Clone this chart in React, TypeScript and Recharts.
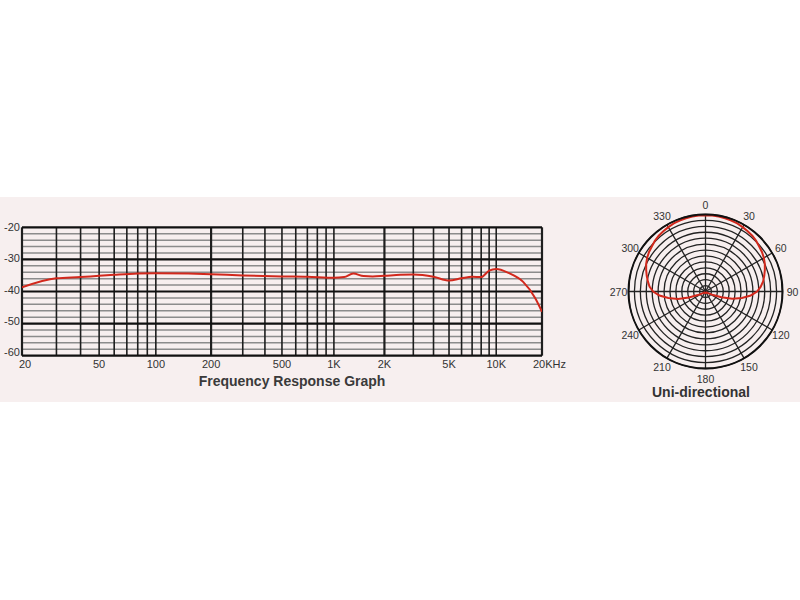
import React from 'react';
import {
  LineChart,
  Line,
  XAxis,
  YAxis,
  ReferenceLine,
  RadarChart,
  Radar,
  PolarGrid,
  PolarAngleAxis,
  PolarRadiusAxis,
} from 'recharts';

// frequency response (Hz -> dB)
const freqs = [20, 30, 40, 50, 60, 80, 100, 150, 200, 300, 500, 700, 1000, 1150, 1300, 1500, 1700, 2000, 2500, 3000, 4000, 5000, 6000, 7000, 8000, 9000, 10000, 12000, 15000, 18000, 20000];
const levels = [-38.7, -35.9, -35.5, -35.1, -34.8, -34.4, -34.3, -34.4, -34.6, -35.0, -35.3, -35.4, -35.7, -35.5, -34.4, -35.2, -35.3, -35.1, -34.8, -34.7, -35.4, -36.6, -35.9, -35.4, -35.5, -33.5, -33.0, -34.2, -37.0, -42.0, -46.3];

const gridFreqs = [20, 30, 40, 50, 60, 70, 80, 90, 100, 200, 300, 400, 500, 600, 700, 800, 900, 1000, 2000, 3000, 4000, 5000, 6000, 7000, 8000, 9000, 10000, 20000];
const decadeFreqs = [20, 200, 2000, 20000];
const freqLabels: Record<number, string> = { 20: '20', 50: '50', 100: '100', 200: '200', 500: '500', 1000: '1K', 2000: '2K', 5000: '5K', 10000: '10K', 20000: '20KHz' };
const dbMinor = [-22, -24, -26, -28, -32, -34, -36, -38, -42, -44, -46, -48, -52, -54, -56, -58];
const dbMajor = [-20, -30, -40, -50, -60];

// polar pattern, every 5 degrees clockwise from 0
const polarAngles = [0, 5, 10, 15, 20, 25, 30, 35, 40, 45, 50, 55, 60, 65, 70, 75, 80, 85, 90, 95, 100, 105, 110, 115, 120, 125, 130, 135, 140, 145, 150, 155, 160, 165, 170, 175, 180, 185, 190, 195, 200, 205, 210, 215, 220, 225, 230, 235, 240, 245, 250, 255, 260, 265, 270, 275, 280, 285, 290, 295, 300, 305, 310, 315, 320, 325, 330, 335, 340, 345, 350, 355];
const polarLevels = [0.99, 0.99, 0.99, 0.985, 0.98, 0.975, 0.965, 0.955, 0.945, 0.93, 0.91, 0.895, 0.875, 0.85, 0.82, 0.79, 0.76, 0.72, 0.67, 0.59, 0.48, 0.36, 0.22, 0.11, 0.05, 0.03, 0.02, 0.02, 0.02, 0.02, 0.02, 0.02, 0.02, 0.02, 0.02, 0.02, 0.02, 0.02, 0.02, 0.02, 0.02, 0.02, 0.02, 0.02, 0.02, 0.02, 0.02, 0.03, 0.05, 0.11, 0.23, 0.37, 0.49, 0.6, 0.68, 0.73, 0.76, 0.79, 0.82, 0.85, 0.875, 0.895, 0.91, 0.93, 0.945, 0.955, 0.965, 0.975, 0.98, 0.985, 0.99, 0.99];
const polarLabels = [0, 30, 60, 90, 120, 150, 180, 210, 240, 270, 300, 330];

// the printed chart is not a true log scale, it gets tighter towards 20K
const warp = (f: number) => {
  const L = Math.log10(f / 20);
  return L - 0.04 * L * L;
};

const freqData = freqs.map((f, i) => ({ u: warp(f), db: levels[i] }));
const polarData = polarAngles.map((a, i) => ({ angle: a, r: polarLevels[i] }));

const FONT = '"Liberation Sans", Arial, sans-serif';
const RED = '#d2281c';
const INK = '#333333';
const OUTER = 77;
const CX = 105.5;
const CY = 101.5;

const FreqTick = (props: any) => {
  const { x, y, payload } = props;
  const f = gridFreqs.find((g) => Math.abs(warp(g) - payload.value) < 1e-9);
  const label = f !== undefined ? freqLabels[f] : undefined;
  if (!label) return <g />;
  const last = f === 20000;
  const first = f === 20;
  return (
    <text
      x={last ? x - 9 : first ? x + 3 : x}
      y={y + 12}
      textAnchor={last ? 'start' : 'middle'}
      fontSize={11}
      fontFamily={FONT}
      style={{ fill: INK }}
    >
      {label}
    </text>
  );
};

const DbTick = (props: any) => {
  const { x, y, payload } = props;
  if (payload.value % 10 !== 0) return <g />;
  return (
    <text x={x} y={y + 4 + (payload.value + 20) / 10} textAnchor="end" fontSize={11} fontFamily={FONT} style={{ fill: INK }}>
      {payload.value}
    </text>
  );
};

const AngleTick = (props: any) => {
  const { payload } = props;
  if (!polarLabels.includes(payload.value)) return <g />;
  const rad = (payload.coordinate * Math.PI) / 180;
  const tx = CX + 87 * Math.cos(rad);
  const ty = CY - 87 * Math.sin(rad);
  return (
    <text x={tx} y={ty + 4} textAnchor="middle" fontSize={10.5} fontFamily={FONT} style={{ fill: INK }}>
      {payload.value}
    </text>
  );
};

export default function App() {
  const ringRadii = Array.from({ length: 13 }, (_, k) => (OUTER * (k + 1)) / 13);
  return (
    <div style={{ position: 'absolute', left: 0, top: 0, width: 800, height: 600, background: '#fff', fontFamily: FONT }}>
      <div style={{ position: 'absolute', left: 0, top: 197, width: 800, height: 205, background: '#f7efef' }} />

      <div style={{ position: 'absolute', left: 0, top: 190 }}>
        <LineChart width={580} height={200} data={freqData} margin={{ top: 37.3, right: 38, bottom: 14.3, left: 0 }}>
          <XAxis
            type="number"
            dataKey="u"
            domain={[0, warp(20000)]}
            ticks={gridFreqs.map(warp)}
            interval={0}
            tick={<FreqTick />}
            tickLine={false}
            axisLine={false}
            tickSize={0}
            tickMargin={0}
            height={20}
            allowDataOverflow
          />
          <YAxis
            type="number"
            domain={[-60, -20]}
            ticks={dbMajor}
            interval={0}
            tick={<DbTick />}
            tickLine={false}
            axisLine={false}
            tickSize={0}
            tickMargin={2}
            width={22}
            allowDataOverflow
          />
          {dbMinor.map((d) => (
            <ReferenceLine key={'h' + d} y={d} stroke="#8c8c8c" strokeWidth={1.5} />
          ))}
          {gridFreqs.map((f) => (
            <ReferenceLine key={'v' + f} x={warp(f)} stroke="#1e1e1e" strokeWidth={decadeFreqs.includes(f) ? 2.2 : 1.6} />
          ))}
          {dbMajor.map((d) => (
            <ReferenceLine key={'m' + d} y={d} stroke="#111" strokeWidth={2.2} />
          ))}
          <Line type="monotone" dataKey="db" stroke={RED} strokeWidth={2} dot={false} isAnimationActive={false} />
        </LineChart>
      </div>

      <div style={{ position: 'absolute', left: 192, top: 373, width: 200, textAlign: 'center', fontSize: 14, fontWeight: 'bold', color: '#3a3a3a', whiteSpace: 'nowrap' }}>
        Frequency Response Graph
      </div>

      <div style={{ position: 'absolute', left: 600, top: 190 }}>
        <RadarChart width={200} height={215} data={polarData} cx={CX} cy={CY} outerRadius={OUTER} startAngle={90} endAngle={-270}>
          <PolarGrid
            gridType="circle"
            polarRadius={ringRadii}
            polarAngles={[0, 30, 60, 90, 120, 150, 180, 210, 240, 270, 300, 330]}
            stroke="#222"
            strokeWidth={1.3}
          />
          <PolarAngleAxis
            dataKey="angle"
            tick={<AngleTick />}
            tickLine={false}
            axisLineType="circle"
            axisLine={{ stroke: '#111', strokeWidth: 2 }}
          />
          <PolarRadiusAxis domain={[0, 1]} tick={false} axisLine={false} />
          <Radar dataKey="r" stroke={RED} strokeWidth={2} fill="none" fillOpacity={0} dot={false} isAnimationActive={false} />
        </RadarChart>
      </div>

      <div style={{ position: 'absolute', left: 651, top: 384, width: 100, textAlign: 'center', fontSize: 14, fontWeight: 'bold', color: '#333', whiteSpace: 'nowrap' }}>
        Uni-directional
      </div>
    </div>
  );
}
